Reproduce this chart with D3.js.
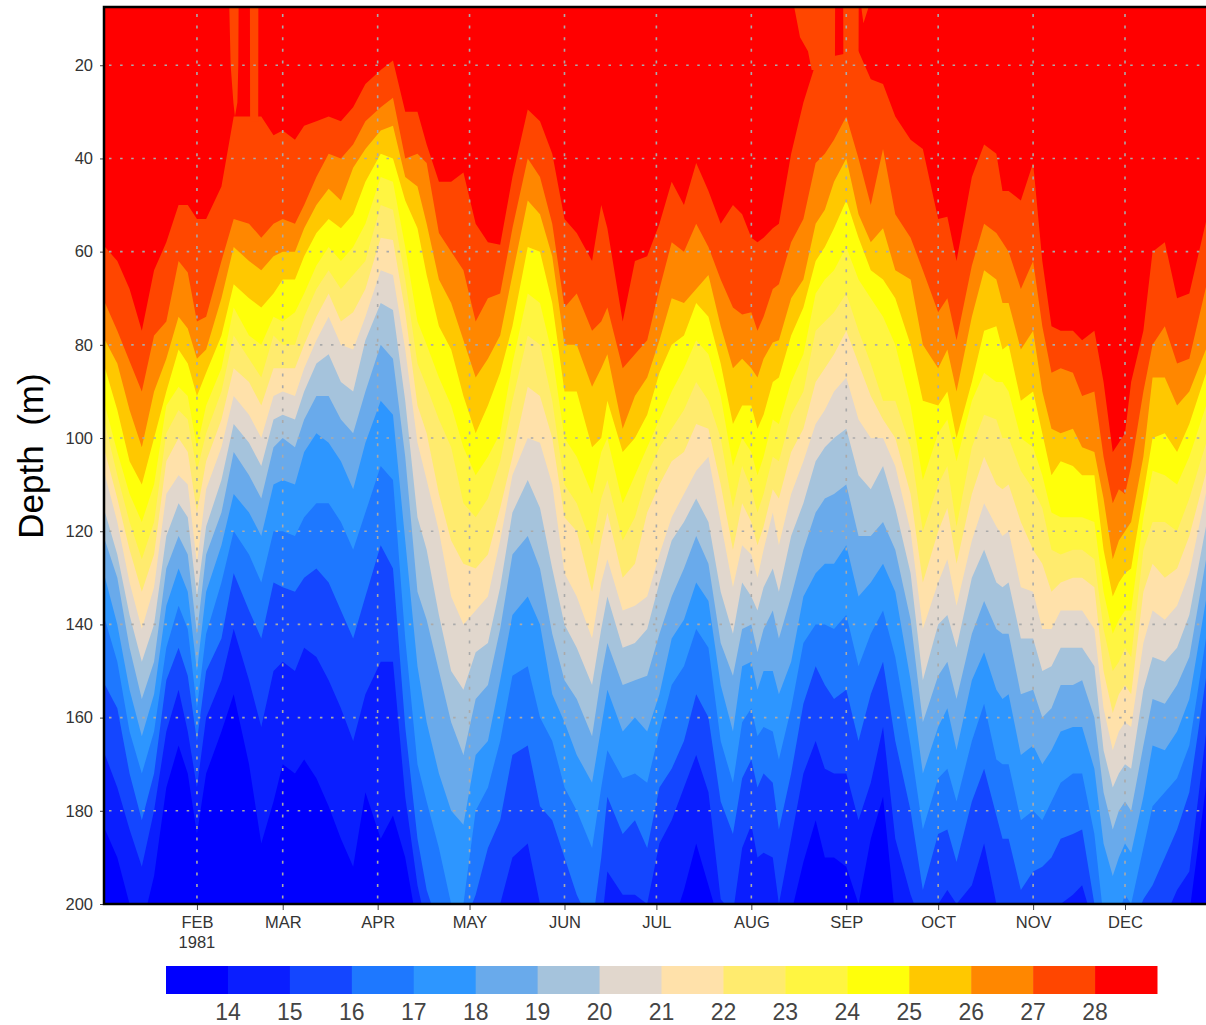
<!DOCTYPE html>
<html>
<head>
<meta charset="utf-8">
<script src="https://cdn.jsdelivr.net/npm/d3@7"></script>
<style>
  html, body { margin: 0; padding: 0; background: #fff; overflow: hidden; }
  text { font-family: "Liberation Sans", sans-serif; fill: #333; }
</style>
</head>
<body>
<div id="chart"></div>
<script>
// contour levels (deg C) and the 16 shades between them, coldest first
const levels = [14, 15, 16, 17, 18, 19, 20, 21, 22, 23, 24, 25, 26, 27, 28];
const shades = ['#0000ff', '#0a1eff', '#1446ff', '#1e78ff', '#2d96ff', '#69aaeb', '#a5c3dc', '#e1d7cd',
                '#ffe1aa', '#ffeb6e', '#fff541', '#ffff0a', '#ffc800', '#ff8700', '#ff4600', '#ff0000'];
const depthTicks = [20, 40, 60, 80, 100, 120, 140, 160, 180, 200];
const monthNames = ['FEB', 'MAR', 'APR', 'MAY', 'JUN', 'JUL', 'AUG', 'SEP', 'OCT', 'NOV', 'DEC'];
const monthDays = [31, 59, 90, 120, 151, 181, 212, 243, 273, 304, 334];

const days = [
  1, 5, 9, 13, 17, 21, 25, 28, 31, 34,
  39, 43, 48, 52, 56, 59, 63, 66, 70, 74,
  78, 82, 86, 91, 95, 99, 103, 106, 110, 114,
  118, 122, 126, 130, 134, 139, 143, 147, 151, 155,
  160, 163, 165, 170, 174, 178, 182, 186, 190, 194,
  198, 202, 206, 209, 212, 214, 216, 219, 221, 225,
  229, 233, 236, 239, 243, 247, 251, 255, 259, 264,
  268, 273, 276, 279, 284, 288, 292, 294, 296, 300,
  304, 307, 310, 313, 317, 320, 324, 327, 330, 332,
  334, 336, 340, 343, 347, 351, 355, 361];

// isotherm depths (m)
const iso28 = [
  59, 62, 68, 77, 64, 58, 50, 50, 53, 53,
  46, 31, 31, 31, 35, 34, 36, 33, 32, 31,
  32, 29, 24, 21, 19, 30, 30, 37, 45, 45,
  43, 54, 58, 58.5, 44, 29.5, 32, 39, 53, 56,
  62, 50, 55, 75, 62, 61, 54, 45, 50, 41,
  47, 54, 50, 52, 57, 58, 57, 55, 54, 39,
  28, 19.6, 19, 18, 17.5, 17, 23, 24, 31, 36,
  38, 53, 52.5, 62, 44, 37, 39, 47, 47, 49,
  41, 62, 76, 77, 77, 79, 77, 88, 103, 101,
  99, 88, 77, 60, 58, 70, 69, 52];
const iso27 = [
  71, 77, 83.5, 90, 78, 75, 62, 64.5, 75, 74,
  62, 53, 54, 57, 54, 53, 54, 50, 44, 39,
  40, 37, 32, 29, 27, 40, 39, 41, 56, 60,
  64, 75, 70, 69, 55, 40, 44, 54, 72, 69,
  77, 75, 72, 85, 82, 79, 68, 58, 60, 54,
  59, 66, 72, 73.5, 73, 77, 74, 68, 67, 58,
  53, 41, 39, 36, 31, 40, 50, 38, 52, 57,
  64, 73, 70, 79, 63, 54, 56, 58, 60, 68,
  62, 76, 86, 85, 86, 91, 90, 104, 114, 111,
  112, 106, 90, 80, 76, 84, 83, 66];
const iso26 = [
  79, 84, 94, 102, 90, 83, 74, 76.5, 83, 81,
  70, 59, 62, 64, 61, 60, 60, 55, 50, 46.5,
  49, 42, 38, 34, 33, 44, 46, 54, 66, 71,
  79, 87, 83, 78, 65, 49, 52, 61, 80, 80,
  89, 85, 82, 98, 91, 87, 79, 70, 71, 68,
  65, 76, 85, 83, 85, 87, 83, 79.5, 79, 70,
  66, 54, 51, 45, 40, 52, 58, 55, 64, 66,
  80, 85, 81, 90, 74, 64, 66, 71, 71, 81,
  77, 90, 98, 99, 98, 102, 103, 113, 126, 122,
  120, 118, 104, 87, 87, 93, 90, 80];
const iso25 = [
  85, 94, 105, 110, 100, 90, 81, 84, 91, 86,
  78, 67, 70, 72, 69, 66, 66, 61, 56, 53,
  55, 52, 45, 39, 40, 49, 55, 65, 76, 81,
  91, 99, 93, 86, 76, 59, 60, 71, 90, 90,
  102, 100, 92, 103, 100, 95, 86, 80, 78, 71,
  74, 84, 97, 93, 93, 98, 95, 88, 87, 78,
  72, 62, 59, 55, 49, 57, 64, 66, 70, 80,
  92, 93, 90, 100, 88, 77, 76, 81, 80, 92,
  90, 99, 108, 105, 106, 108, 108, 124, 134, 131,
  129, 128, 112, 100, 99, 103, 97, 85];

// one row per day, isotherms 24, 23, ... 14 (values past 200 m are below the frame)
const lowerIsos = [
  [93, 97, 103, 108, 116, 122, 130, 139, 153, 168, 184],
  [103, 108, 113, 118, 125, 130, 140, 148, 158, 175, 190],
  [112, 118, 124, 131, 138, 145, 154, 163, 172, 184, 200],
  [118, 126, 133, 141, 148, 156, 164, 172, 182, 192, 205],
  [110, 118, 125, 132, 140, 148, 155, 163, 172, 180, 194],
  [93, 99, 105, 112, 121, 128, 136, 145, 152, 163, 175],
  [89, 94, 100, 108, 114, 121, 128, 136, 145, 154, 166],
  [91, 96, 103, 110, 117, 125, 133, 141, 151, 163, 172],
  [102, 107, 116, 127, 134, 142, 150, 158, 165, 175, 185],
  [93, 99, 105, 111, 119, 125, 133, 142, 150, 160, 172],

  [85, 90, 96, 102, 109, 116, 123, 131, 143, 152, 163],
  [72, 78, 85, 91, 97, 103, 112, 120, 129, 141, 155],
  [78, 83, 88, 95, 101, 108, 116, 125, 137, 152, 170],
  [80, 87, 93, 100, 106, 113, 121, 131, 143, 162, 187],
  [74, 78, 85, 91, 96, 102, 110, 120, 131, 150, 178],
  [75, 80, 85, 90, 95, 100, 109, 120, 132, 148, 170],
  [73, 80, 85, 91, 96, 102, 110, 121, 133, 150, 172],
  [69, 74, 80, 85, 90, 96, 103, 117, 130, 145, 169],
  [63, 68, 74, 79, 84, 91, 99, 114, 128, 147, 173],
  [59, 64, 69, 74, 82, 91, 101, 114, 131, 152, 179],

  [62, 68, 75, 80, 88, 96, 105, 118, 137, 158, 186],
  [59, 65, 73, 81, 90, 99, 111, 124, 143, 165, 192],
  [54, 62, 68, 74, 79, 90, 101, 116, 134, 155, 176],
  [44, 50, 57, 64, 71, 80, 92, 106, 123, 148, 186],
  [45, 51, 57.5, 65, 72.5, 83, 95, 109, 128, 148, 181],
  [59, 66, 73, 81, 92, 104, 122, 143, 162, 177, 190],
  [75, 84, 93, 101, 117, 133, 149, 170, 186, 196, 205],
  [80, 89, 99, 109, 124, 139, 161, 178, 197, 205, 208],
  [87, 96, 112, 120, 138, 150, 172, 188, 205, 208, 210],
  [93, 102, 122, 134, 150, 161, 180, 200, 205, 208, 210],

  [102, 114, 127, 140, 154, 168, 183, 200, 205, 208, 210],
  [108, 117, 128, 137, 146, 156, 168, 180, 198, 205, 208],
  [104, 113, 125, 134, 144, 153, 165, 175, 188, 205, 208],
  [99, 105, 115, 122, 132, 141, 152, 165, 182, 200, 208],
  [84, 92, 104, 108, 116, 125, 138, 151, 168, 190, 208],
  [69, 78, 89, 100, 109, 121, 134, 149, 166, 187, 205],
  [71, 80, 91, 101, 115, 128, 140, 160, 179, 200, 208],
  [82, 92, 100, 110, 128, 142, 155, 165, 182, 205, 208],
  [100, 110, 117, 129, 140, 152, 161, 175, 190, 205, 208],
  [104, 114, 120, 134, 145, 156, 168, 180, 198, 205, 208],

  [112, 123, 133, 143, 153, 164, 174, 188, 205, 208, 210],
  [103, 113, 122, 131, 141, 151, 162, 175, 190, 205, 208],
  [100, 109, 116, 126, 134, 144, 154, 167, 177, 193, 206],
  [114, 122, 130, 137, 145, 153, 163, 173, 185, 198, 208],
  [108, 117, 127, 136, 144, 152, 160, 172, 182, 198, 208],
  [102, 108, 116, 134, 141, 151, 163, 174, 188, 200, 208],
  [96, 102, 110, 125, 131, 142, 155, 163, 175, 187, 205],
  [90, 98, 105, 117, 122, 134, 143, 153, 171, 182, 205],
  [85, 94, 103, 112, 118, 128, 139, 149, 165, 175, 197],
  [79, 88, 97, 107, 113, 121, 131, 141, 155, 168, 187],

  [82, 92, 98, 104, 118, 127, 135, 145, 160, 176, 196],
  [91, 100, 110, 118, 133, 144, 153, 165, 178, 199, 205],
  [106, 115, 124, 132, 142, 151, 163, 174, 185, 202, 205],
  [100, 106, 114, 123, 131, 141, 149, 161, 173, 188, 205],
  [103, 111, 118, 125, 134, 140, 148, 158, 169, 183, 205],
  [108, 116, 123, 130, 137, 146, 154, 164, 175, 190, 205],
  [104, 112, 119, 124, 132, 141, 150, 162, 172, 189, 205],
  [96, 104, 111, 116, 128, 137, 150, 163, 174, 190, 205],
  [97, 105, 113, 123, 133, 143, 155, 169, 184, 200, 205],
  [88, 95, 103, 112, 121, 134, 148, 158, 172, 186, 202],

  [82, 90, 98, 105, 114, 124, 134, 144, 157, 172, 191],
  [69, 77, 88, 97, 105, 116, 129, 140, 149, 165, 182],
  [66, 75, 85, 94, 102, 113, 127, 140, 153, 171, 190],
  [64, 73, 82, 90, 100, 112, 127, 141, 156, 172, 190],
  [59, 69, 77, 87, 98, 110, 123, 138, 154, 172, 192],
  [66, 77, 84, 96, 108, 121, 134, 149, 165, 182, 200],
  [70, 84, 91, 100, 111, 121, 131, 142, 155, 174, 186],
  [74, 92, 96, 100, 106, 118, 127, 137, 148, 162, 177],
  [80, 92, 100, 106, 115, 124, 133, 147, 165, 186, 203],
  [93, 102, 112, 120, 129, 139, 152, 166, 180, 198, 205],

  [109, 120, 131, 141, 152, 161, 172, 184, 197, 205, 208],
  [99, 110, 120, 131, 140, 151, 162, 173, 185, 200, 205],
  [96, 106, 115, 126, 138, 148, 158, 171, 184, 197, 205],
  [105, 119, 127, 136, 145, 156, 167, 178, 191, 200, 205],
  [92, 102, 112, 122, 130, 142, 152, 165, 178, 196, 205],
  [86, 95, 104, 114, 124, 135, 146, 157, 171, 187, 205],
  [88, 96, 110, 119, 131, 141, 154, 169, 181, 200, 205],
  [88, 100, 111, 121, 132, 142, 156, 170, 186, 201, 205],
  [90, 100, 110, 120, 131, 142, 155, 170, 186, 203, 205],
  [100, 107, 118, 132, 143, 155, 168, 182, 197, 205, 208],

  [102, 111, 124, 133, 143, 154, 166, 180, 193, 205, 208],
  [108, 115, 127, 141, 150, 160, 170, 182, 192, 205, 208],
  [116, 124, 133, 141, 149, 158, 167, 178, 190, 203, 208],
  [117, 125, 131, 137, 145, 153, 163, 174, 186, 200, 208],
  [117, 124, 130, 137, 145, 153, 162, 172, 185, 198, 208],
  [117, 124, 130, 137, 145, 152, 162, 172, 184, 196, 208],
  [118, 126, 132, 141, 149, 160, 171, 185, 200, 205, 208],
  [133, 141, 150, 158, 167, 176, 187, 203, 206, 207, 208],
  [142, 150, 159, 167, 175, 184, 194, 205, 206, 207, 208],
  [139, 148, 155, 163, 172, 180, 190, 202, 206, 207, 208],

  [137, 145, 153, 161, 170, 178, 187, 198, 206, 207, 208],
  [137, 147, 155, 162, 171, 180, 189, 200, 206, 207, 208],
  [117, 124, 133, 144, 154, 166, 177, 188, 199, 206, 208],
  [107, 118, 127, 137, 147, 156, 166, 179, 196, 206, 208],
  [108, 118, 130, 139, 148, 157, 167, 176, 190, 203, 208],
  [110, 120, 128, 136, 145, 153, 163, 173, 184, 197, 206],
  [104, 113, 121, 129, 138, 147, 156, 166, 176, 193, 202],
  [92, 100, 106, 110, 117, 124, 132.6, 140.6, 149, 160.5, 172]
];

// warm water tongues of 27-28 that sit above a cooler red-free gap near the surface
const tongueDays = [41.56, 42, 42.9, 43.4, 44.2, 44.5, 44.6, null,
                    48.3, 48.35, 51, 51.05, null,
                    226, 227.9, 230.5, 231.7, 239.3, 239.35, null,
                    242, 242.05, 247, 247.05, null,
                    247.9, 248.6, 250.3];
const tongueDepth = [7.5, 20, 28, 31, 28, 20, 7.5, null,
                     7.5, 32, 32, 7.5, null,
                     7.5, 14, 17, 21, 21, 7.5, null,
                     7.5, 20, 20, 7.5, null,
                     7.5, 11, 7.5];

// frame
const FRAME_WIDTH = 1206;
const FRAME_HEIGHT = 1025;
const PLOT = {left: 105, right: 1206, top: 7, bottom: 904};
const START = new Date(Date.UTC(1981, 0, 1));
const dayToDate = (d) => START.getTime() + d * 86400000;

const svg = d3.select('#chart')
              .append('svg')
              .attr('width', FRAME_WIDTH)
              .attr('height', FRAME_HEIGHT)
              .style('display', 'block');

const xScale = d3.scaleUtc()
                 .domain([START, new Date(Date.UTC(1981, 11, 1))])
                 .range([102, 1125]);
const yScale = d3.scaleLinear()
                 .domain([7.5, 200])
                 .range([PLOT.top, PLOT.bottom]);

svg.append('clipPath')
   .attr('id', 'plotClip')
   .append('rect')
   .attr('x', PLOT.left)
   .attr('y', PLOT.top)
   .attr('width', PLOT.right - PLOT.left)
   .attr('height', PLOT.bottom - PLOT.top);

const plot = svg.append('g').attr('clip-path', 'url(#plotClip)');

// warmest shade fills the frame, each isotherm then paints everything below it
plot.append('rect')
    .attr('x', PLOT.left)
    .attr('y', PLOT.top)
    .attr('width', PLOT.right - PLOT.left)
    .attr('height', PLOT.bottom - PLOT.top)
    .attr('fill', shades[15]);

const lower = d3.transpose(lowerIsos);
const series = new Map([[28, iso28], [27, iso27], [26, iso26], [25, iso25]]);
lower.forEach((values, i) => series.set(24 - i, values));

const belowArea = d3.area()
                    .x((d) => xScale(dayToDate(d[0])))
                    .y0(yScale(210))
                    .y1((d) => yScale(d[1]));

const tongueArea = d3.area()
                     .defined((d) => d[0] !== null)
                     .x((d) => xScale(dayToDate(d[0])))
                     .y0(yScale(7.5))
                     .y1((d) => yScale(d[1]));

for (let i = levels.length - 1; i >= 0; i--) {
    const level = levels[i];
    plot.append('path')
        .attr('d', belowArea(d3.zip(days, series.get(level))))
        .attr('fill', shades[i]);
    if (level === 28) {
        plot.append('path')
            .attr('d', tongueArea(d3.zip(tongueDays, tongueDepth)))
            .attr('fill', shades[i]);
    }
}

// dotted grid
const grid = svg.append('g')
                .attr('stroke', '#aaa')
                .attr('stroke-width', 1.6)
                .attr('fill', 'none');
grid.selectAll('.hgrid')
    .data(depthTicks.slice(0, -1))
    .enter()
    .append('line')
    .attr('x1', PLOT.left + 4)
    .attr('x2', PLOT.right)
    .attr('y1', (d) => yScale(d))
    .attr('y2', (d) => yScale(d))
    .attr('stroke-dasharray', '2.5,8.6');
grid.selectAll('.vgrid')
    .data(monthDays)
    .enter()
    .append('line')
    .attr('x1', (d) => xScale(dayToDate(d)))
    .attr('x2', (d) => xScale(dayToDate(d)))
    .attr('y1', PLOT.top + 7)
    .attr('y2', PLOT.bottom)
    .attr('stroke-dasharray', '3,8.6');

// axes
const yAxis = svg.append('g')
                 .attr('transform', 'translate(' + (PLOT.left - 1) + ',0)')
                 .call(d3.axisLeft(yScale).tickValues(depthTicks).tickSize(4).tickPadding(7));
yAxis.select('.domain').remove();
yAxis.selectAll('.tick line').attr('stroke', '#444');
yAxis.selectAll('text').attr('font-size', 16.5);

const xAxis = svg.append('g')
                 .attr('transform', 'translate(0,' + PLOT.bottom + ')')
                 .call(d3.axisBottom(xScale)
                         .tickValues(monthDays.map((d) => new Date(dayToDate(d))))
                         .tickFormat((d, i) => monthNames[i])
                         .tickSize(6)
                         .tickPadding(6));
xAxis.select('.domain').remove();
xAxis.selectAll('.tick line').attr('stroke', '#444');
xAxis.selectAll('text').attr('font-size', 16.5);

svg.append('text')
   .attr('x', xScale(dayToDate(monthDays[0])))
   .attr('y', 948)
   .attr('text-anchor', 'middle')
   .attr('font-size', 16.5)
   .text('1981');

// frame lines
const frame = svg.append('g').attr('stroke', '#000').attr('stroke-width', 2.5).attr('fill', 'none');
frame.append('path')
     .attr('d', 'M' + PLOT.right + ',' + PLOT.top + 'H' + (PLOT.left - 1) + 'V' + PLOT.bottom + 'H' + PLOT.right);

// y axis title
svg.append('text')
   .attr('transform', 'translate(43,456) rotate(-90)')
   .attr('text-anchor', 'middle')
   .attr('font-size', 35)
   .style('fill', '#000')
   .style('white-space', 'pre')
   .text('Depth  (m)');

// colour bar
const barScale = d3.scaleBand()
                   .domain(d3.range(shades.length))
                   .range([166, 1157]);
svg.append('g')
   .selectAll('rect')
   .data(shades)
   .enter()
   .append('rect')
   .attr('x', (d, i) => barScale(i))
   .attr('y', 966)
   .attr('width', barScale.bandwidth() + 0.5)
   .attr('height', 28)
   .attr('fill', (d) => d);

svg.append('g')
   .selectAll('text')
   .data(levels)
   .enter()
   .append('text')
   .attr('x', (d, i) => barScale(i + 1))
   .attr('y', 1020)
   .attr('text-anchor', 'middle')
   .attr('font-size', 23)
   .style('fill', '#444')
   .text((d) => d);
</script>
</body>
</html>
